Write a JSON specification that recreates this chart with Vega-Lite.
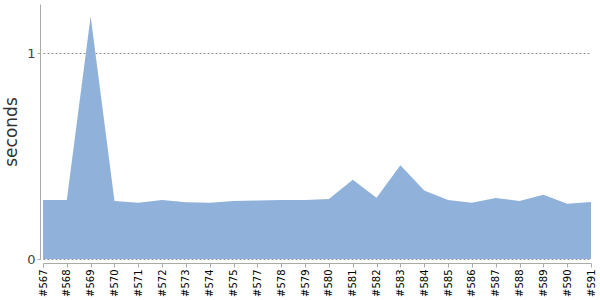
{
  "$schema": "https://vega.github.io/schema/vega-lite/v6.json",
  "width": 548,
  "height": 255,
  "autosize": {"type": "none"},
  "padding": {"left": 43, "top": 4, "right": 9, "bottom": 41},
  "config": {"view": {"stroke": null}, "font": "DejaVu Sans"},
  "data": {"values": [
    {"build": "#567", "seconds": 0.287},
    {"build": "#568", "seconds": 0.287},
    {"build": "#569", "seconds": 1.18},
    {"build": "#570", "seconds": 0.282},
    {"build": "#571", "seconds": 0.274},
    {"build": "#572", "seconds": 0.287},
    {"build": "#573", "seconds": 0.276},
    {"build": "#574", "seconds": 0.273},
    {"build": "#575", "seconds": 0.282},
    {"build": "#577", "seconds": 0.284},
    {"build": "#578", "seconds": 0.287},
    {"build": "#579", "seconds": 0.287},
    {"build": "#580", "seconds": 0.292},
    {"build": "#581", "seconds": 0.385},
    {"build": "#582", "seconds": 0.298},
    {"build": "#583", "seconds": 0.456},
    {"build": "#584", "seconds": 0.333},
    {"build": "#585", "seconds": 0.287},
    {"build": "#586", "seconds": 0.274},
    {"build": "#587", "seconds": 0.297},
    {"build": "#588", "seconds": 0.282},
    {"build": "#589", "seconds": 0.312},
    {"build": "#590", "seconds": 0.269},
    {"build": "#591", "seconds": 0.277}
  ]},
  "mark": {"type": "area", "color": "#8FB1DA", "opacity": 1},
  "encoding": {
    "x": {
      "field": "build", "type": "ordinal", "sort": null,
      "scale": {"type": "point", "padding": 0},
      "axis": {
        "title": null, "labelAngle": -90, "labelFontSize": 10, "labelColor": "#000",
        "domainColor": "#aaa", "tickColor": "#aaa", "tickSize": 4, "offset": 4,
        "labelPadding": 2, "grid": false
      }
    },
    "y": {
      "field": "seconds", "type": "quantitative",
      "scale": {"domain": [0, 1.24], "nice": false},
      "axis": {
        "title": "seconds", "titleFontSize": 17, "titleFontWeight": "normal", "titleColor": "#333",
        "titlePadding": 6, "format": "d",
        "values": [0, 1], "labelFontSize": 13, "labelColor": "#444",
        "domainColor": "#aaa", "tickColor": "#aaa", "tickSize": 3, "offset": 3,
        "grid": true, "gridDash": [2, 2], "gridColor": "#777", "gridWidth": 0.8
      }
    }
  }
}
